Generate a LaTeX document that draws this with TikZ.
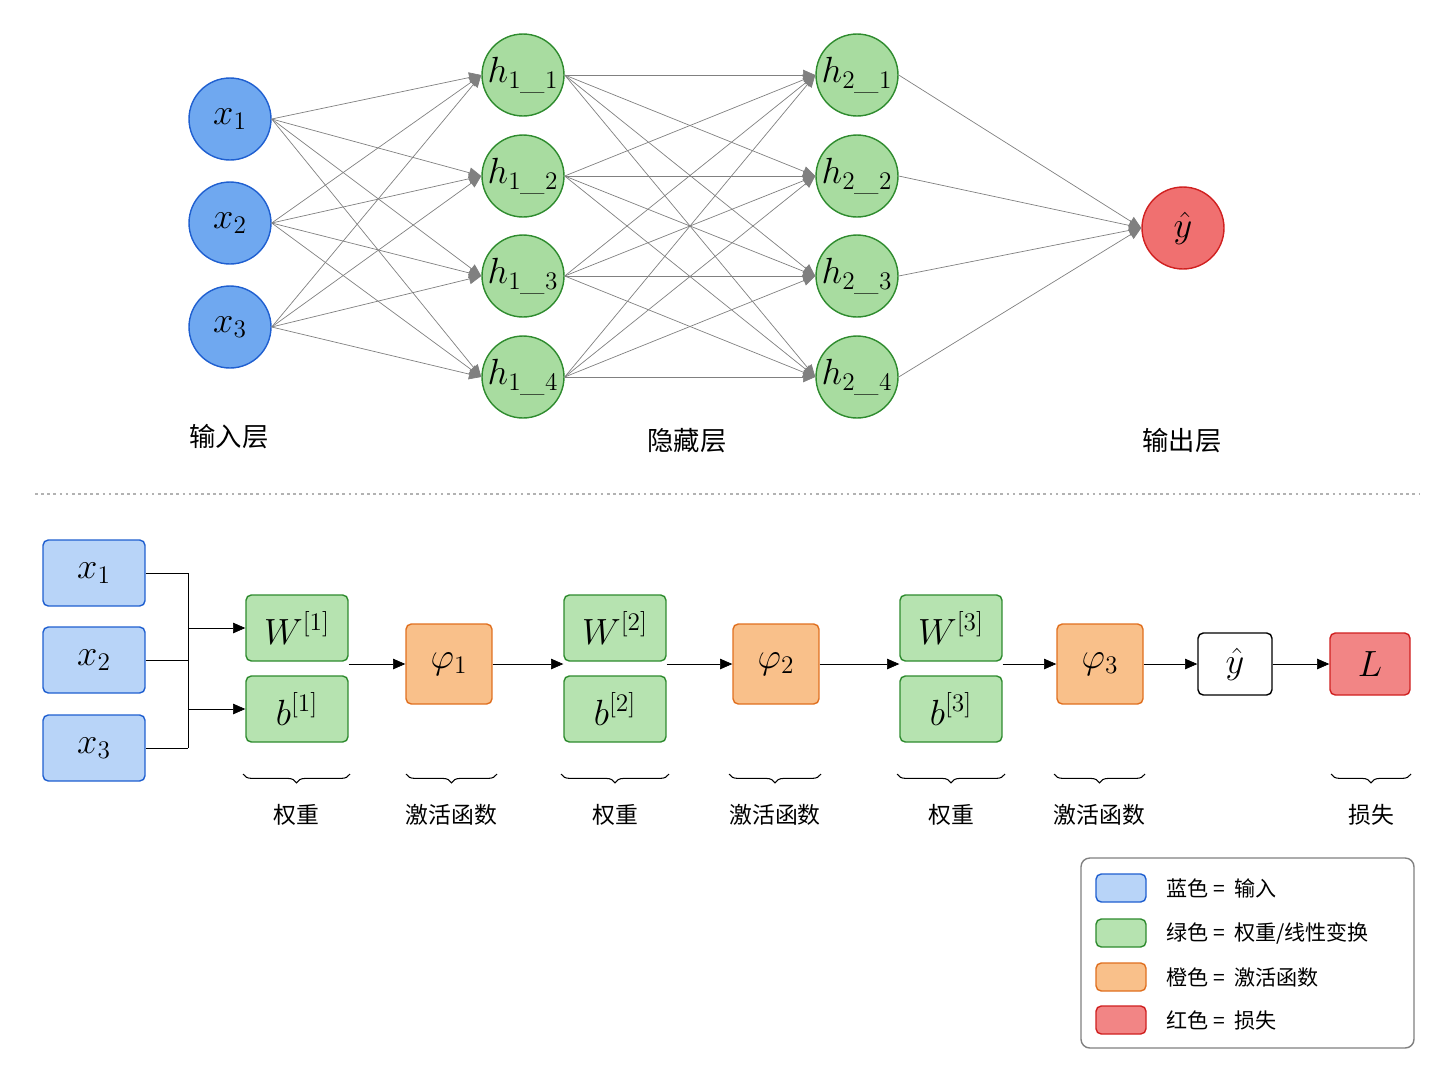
\documentclass[tikz,border=0pt]{standalone}
\usepackage{fontspec}
\newfontfamily\cjk{Noto Sans CJK SC}
\usetikzlibrary{arrows.meta,decorations.pathreplacing,calc}
\definecolor{inblue}{HTML}{6FA8F0}
\definecolor{inbluel}{HTML}{B8D4F8}
\definecolor{edblue}{HTML}{1F5FD0}
\definecolor{hgreen}{HTML}{A8DCA0}
\definecolor{hgreenl}{HTML}{B6E3B0}
\definecolor{edgreen}{HTML}{2E8B2E}
\definecolor{outred}{HTML}{F07070}
\definecolor{edred}{HTML}{D02020}
\definecolor{actor}{HTML}{F9C08A}
\definecolor{edor}{HTML}{E07020}
\tikzset{
  neuron/.style={circle,minimum size=1.64cm,inner sep=0pt,thick,font=\fontsize{20}{24}\selectfont},
  blk/.style={rounded corners=3pt,thick,minimum width=2.04cm,minimum height=1.32cm,inner sep=0pt,font=\fontsize{20}{24}\selectfont},
  link/.style={gray,-{Triangle[length=7pt,width=6pt]}},
  flow/.style={black,-{Triangle[length=7pt,width=6pt]}},
  brc/.style={decorate,decoration={brace,mirror,amplitude=5pt},semithick},
  lbl/.style={font=\cjk\fontsize{13}{15}\selectfont},
  swatch/.style={rounded corners=3pt,thick,minimum width=1cm,minimum height=0.56cm,inner sep=0pt}
}
\begin{document}
\begin{tikzpicture}[x=0.02cm,y=-0.02cm]
\useasboundingbox (0,0) rectangle (1448,1086);
% top network
\foreach \i/\y in {1/119,2/223,3/327}
  \node[neuron,fill=inblue,draw=edblue] (x\i) at (230,\y) {$x_{\i}$};
\foreach \j/\y in {1/75,2/176,3/276,4/377}{
  \node[neuron,fill=hgreen,draw=edgreen] (ha\j) at (523,\y) {$h_{1\_\j}$};
  \node[neuron,fill=hgreen,draw=edgreen] (hb\j) at (857,\y) {$h_{2\_\j}$};
}
\node[neuron,fill=outred,draw=edred] (yh) at (1183,228) {$\hat{y}$};
\foreach \i in {1,...,3}
  \foreach \j in {1,...,4}
    \draw[link] (x\i.east) -- (ha\j.west);
\foreach \i in {1,...,4}{
  \foreach \j in {1,...,4}
    \draw[link] (ha\i.east) -- (hb\j.west);
  \draw[link] (hb\i.east) -- (yh.west);
}
\node[lbl,font=\cjk\fontsize{15}{18}\selectfont] at (229,437) {输入层};
\node[lbl,font=\cjk\fontsize{15}{18}\selectfont] at (687,441) {隐藏层};
\node[lbl,font=\cjk\fontsize{15}{18}\selectfont] at (1182,441) {输出层};
\draw[gray!60,dotted,line width=1.5pt] (35,494) -- (1420,494);
% bottom pipeline
\foreach \i/\y in {1/573,2/660,3/748}
  \node[blk,fill=inbluel,draw=edblue] (bx\i) at (94,\y) {$x_{\i}$};
\foreach \k/\x in {1/297,2/615,3/951}{
  \node[blk,fill=hgreenl,draw=edgreen] (W\k) at (\x,628) {$W^{[\k]}$};
  \node[blk,fill=hgreenl,draw=edgreen] (b\k) at (\x,709) {$b^{[\k]}$};
}
\foreach \k/\x in {1/449,2/776,3/1100}
  \node[blk,fill=actor,draw=edor,minimum width=1.72cm,minimum height=1.6cm] (p\k) at (\x,664) {$\varphi_{\k}$};
\node[blk,fill=white,draw=black,minimum width=1.48cm,minimum height=1.24cm] (yb) at (1235,664) {$\hat{y}$};
\node[blk,fill=outred!85,draw=edred,minimum width=1.6cm,minimum height=1.24cm] (L) at (1370,664) {$L$};
\coordinate (bus) at (188,573);
\coordinate (busb) at (188,748);
\foreach \i in {1,...,3}
  \draw (bx\i.east) -- (bx\i.east -| bus);
\draw (bus) -- (busb);
\draw[flow] (W1.west -| bus) -- (W1.west);
\draw[flow] (b1.west -| bus) -- (b1.west);
\draw[flow] (p1.west -| W1.east) -- (p1.west);
\draw[flow] (p1.east) -- (p1.east -| W2.west);
\draw[flow] (p2.west -| W2.east) -- (p2.west);
\draw[flow] (p2.east) -- (p2.east -| W3.west);
\draw[flow] (p3.west -| W3.east) -- (p3.west);
\draw[flow] (p3) -- (yb);
\draw[flow] (yb) -- (L);
% braces
\foreach \a/\b/\t in {243/350/权重,406/497/激活函数,561/669/权重,729/821/激活函数,897/1005/权重,1054/1145/激活函数,1331/1411/损失}{
  \draw[brc] (\a,774) -- (\b,774);
  \node[lbl] at ({(\a+\b)/2},815) {\t};
}
% legend
\draw[gray,thick,rounded corners=5pt,fill=white] (1081,858) rectangle (1414,1048);
\foreach \y/\f/\d/\t in {888/inbluel/edblue/{蓝色 = \ 输入},933/hgreenl/edgreen/{绿色 = \ 权重/线性变换},977/actor/edor/{橙色 = \ 激活函数},1020/outred!85/edred/{红色 = \ 损失}}{
  \node[swatch,fill=\f,draw=\d] at (1121,\y) {};
  \node[lbl,anchor=west,font=\cjk\fontsize{12}{14}\selectfont] at (1160,\y) {\t};
}
\end{tikzpicture}
\end{document}
